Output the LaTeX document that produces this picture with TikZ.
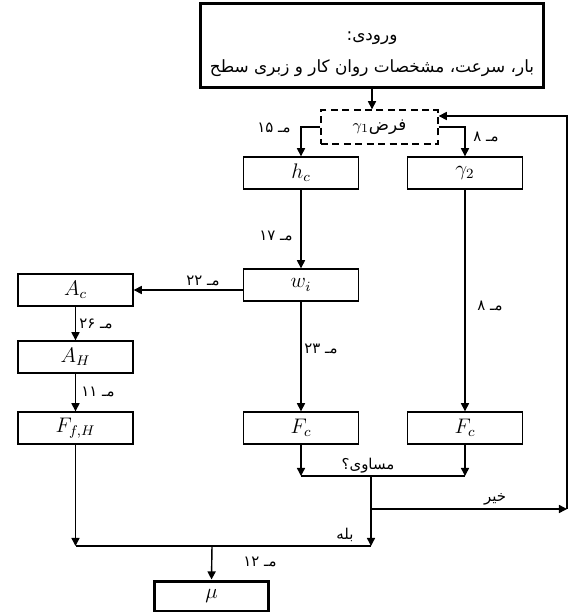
\documentclass[tikz,border=0pt]{standalone}
\usepackage{fontspec}
\usetikzlibrary{arrows.meta,calc}
\newfontfamily\arabicfont[Script=Arabic]{DejaVu Sans}
\TeXXeTstate=1
\tikzset{
  block/.style={
    shape = rectangle,
    draw,
    line width = 0.8pt,
    minimum width = 2.3cm,
    minimum height = 0.64cm,
    inner sep = 0pt,
    font = \fontsize{12}{14}\selectfont
  },
  thickblock/.style={
    block,
    line width = 1.7pt
  },
  guess/.style={
    block,
    dash pattern = on 4pt off 2.5pt,
    minimum width = 2.34cm,
    minimum height = 0.68cm,
    font = \arabicfont\fontsize{9.5}{11}\selectfont
  },
  eqno/.style={
    font = \arabicfont\fontsize{8.5}{10}\selectfont,
    inner sep = 1pt
  },
  flow/.style={
    line width = 0.8pt,
    -{Triangle[length=4.6pt,width=4.6pt]}
  }
}
\begin{document}
\begin{tikzpicture}[x=0.02cm, y=-0.02cm, line width=0.8pt]
    \useasboundingbox (0,0) rectangle (568,612);
    % blocks
    \node[thickblock, minimum width=6.86cm, minimum height=1.7cm, align=center,
          font=\arabicfont\fontsize{9.6}{18}\selectfont] (inp) at (372,45.5)
          {\rule{0pt}{15pt}\beginR ورودی:\endR\\\beginR بار، سرعت، مشخصات روان کار و زبری سطح\endR};
    \node[guess] (asm) at (379.5,127) {\beginR فرض\mbox{$\gamma_1$}\endR};
    \node[block] (hc) at (301,173) {$h_c$};
    \node[block] (g2) at (465,173) {$\gamma_2$};
    \node[block] (wi) at (301,285) {$w_i$};
    \node[block] (Ac) at (75.5,290) {$A_c$};
    \node[block] (AH) at (75.5,357) {$A_H$};
    \node[block] (FfH) at (75.5,428) {$F_{f,H}$};
    \node[block] (Fc1) at (301,428) {$F_c$};
    \node[block] (Fc2) at (465,428) {$F_c$};
    \node[thickblock, minimum height=0.6cm] (mu) at (211.5,596) {$\mu$};
    % junctions
    \coordinate (eqL) at (301,476);
    \coordinate (eqR) at (465,476);
    \coordinate (eqM) at (371,476);
    \coordinate (no) at (371,509);
    \coordinate (back) at (567,509);
    \coordinate (yes) at (371,546);
    \coordinate (left) at (75.5,546);
    \coordinate (join) at (212,546);
    % connectors
    \draw[flow] (inp.south) -- (inp.south |- asm.north);
    \draw[flow] (asm.west) -| (hc.north);
    \draw[flow] (asm.east) -| (g2.north);
    \draw[flow] (hc.south) -- (wi.north);
    \draw[flow] (wi.west |- Ac.east) -- (Ac.east);
    \draw[flow] (wi.south) -- (Fc1.north);
    \draw[flow] (g2.south) -- (Fc2.north);
    \draw[flow] (Ac.south) -- (AH.north);
    \draw[flow] (AH.south) -- (FfH.north);
    \draw[flow] (Fc1.south) -- (eqL);
    \draw[flow] (Fc2.south) -- (eqR);
    \draw (eqL) -- (eqR);
    \draw[flow] (eqM) -- (yes);
    \draw[flow] (no) -- (back);
    \draw[flow] (back) |- ([yshift=0.22cm]asm.east);
    \draw[flow] (FfH.south) -- (left);
    \draw (left) -- (yes);
    \draw[flow] (join) -- (mu.north);
    % labels
    \node[eqno] (l15) at (274,128) {\beginR مـ ۱۵\endR};
    \node[eqno] (l8a) at (486,137) {\beginR مـ ۸\endR};
    \node[eqno] (l17) at (276,236) {\beginR مـ ۱۷\endR};
    \node[eqno] (l22) at (203,281) {\beginR مـ ۲۲\endR};
    \node[eqno] (l26) at (96,324) {\beginR مـ ۲۶\endR};
    \node[eqno] (l11) at (98,392) {\beginR مـ ۱۱\endR};
    \node[eqno] (l23) at (321,349) {\beginR مـ ۲۳\endR};
    \node[eqno] (l8b) at (490,306) {\beginR مـ ۸\endR};
    \node[eqno] (leq) at (368,466) {\beginR مساوی؟\endR};
    \node[eqno] (lno) at (495,499) {\beginR خیر\endR};
    \node[eqno] (lyes) at (345,535) {\beginR بله\endR};
    \node[eqno] (l12) at (260,562) {\beginR مـ ۱۲\endR};
\end{tikzpicture}
\end{document}
